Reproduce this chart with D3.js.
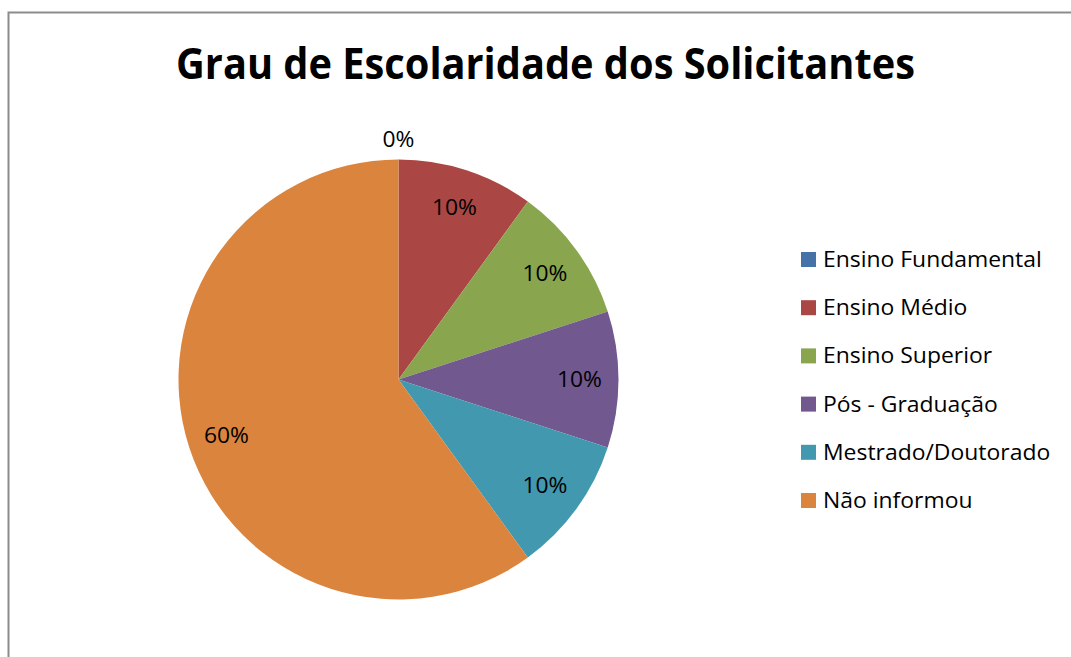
<!DOCTYPE html>
<html lang="pt">
  <head>
    <meta charset="UTF-8" />
    <title>Grau de Escolaridade dos Solicitantes</title>
    <script src="https://cdn.jsdelivr.net/npm/d3@7"></script>
    <style>
      body { margin: 0; background: #fff; }
      svg { display: block; }
      text { font-family: "Open Sans", "Noto Sans", sans-serif; fill: #000; }
    </style>
  </head>
  <body>
    <svg width="1071" height="657"></svg>
    <script>
      // data
      const categories = ["Ensino Fundamental", "Ensino Médio", "Ensino Superior",
                          "Pós - Graduação", "Mestrado/Doutorado", "Não informou"];
      const values = [0, 10, 10, 10, 10, 60];
      const colors = ["#4572A7", "#AA4643", "#89A54E", "#71588F", "#4198AF", "#DB843D"];

      const svg = d3.select("svg");

      // chart frame (runs off right and bottom of the window)
      svg.append("rect")
        .attr("x", 8.5).attr("y", 12.5)
        .attr("width", 1100).attr("height", 700)
        .attr("fill", "none").attr("stroke", "#8c8c8c").attr("stroke-width", 2);

      // horizontal squeeze so a wider font spans the same width as the original (Calibri)
      function squeeze(str, size, target, weight) {
        const t = svg.append("text").attr("font-size", size)
          .attr("font-weight", weight || "normal").text(str);
        const w = t.node().getComputedTextLength();
        t.remove();
        return target / w;
      }

      const titleSx = squeeze("Grau de Escolaridade dos Solicitantes", 43, 739, "bold");
      svg.append("text")
        .attr("transform", `translate(545.5,79) scale(${titleSx},1)`)
        .attr("text-anchor", "middle")
        .attr("font-weight", "bold")
        .attr("font-size", 43)
        .text("Grau de Escolaridade dos Solicitantes");

      // pie
      const cx = 398.5, cy = 379.5, R = 220;
      const pie = d3.pie().sort(null).value(d => d);
      const slices = pie(values);
      const arc = d3.arc().innerRadius(0).outerRadius(R);
      const labelArc = d3.arc().innerRadius(181).outerRadius(181);
      const outArc = d3.arc().innerRadius(240).outerRadius(240);

      const g = svg.append("g").attr("transform", `translate(${cx},${cy})`);
      g.selectAll("path")
        .data(slices)
        .enter()
        .append("path")
        .attr("d", arc)
        .attr("fill", (d, i) => colors[i]);

      const total = d3.sum(values);
      const labelSx = squeeze("10%", 21, 45);

      g.selectAll("text.lbl")
        .data(slices)
        .enter()
        .append("text")
        .attr("class", "lbl")
        .attr("transform", d => `translate(${(d.value === 0 ? outArc : labelArc).centroid(d)}) scale(${labelSx},1)`)
        .attr("text-anchor", "middle")
        .attr("dy", "0.36em")
        .attr("font-size", 21)
        .text(d => Math.round(d.value / total * 100) + "%");

      // legend
      const legendSx = squeeze(categories[0], 21, 219);
      const y = d3.scalePoint().domain(categories).range([259.5, 500.5]);
      const item = svg.append("g").selectAll("g")
        .data(categories)
        .enter()
        .append("g")
        .attr("transform", d => `translate(801,${y(d)})`);
      item.append("rect")
        .attr("x", 0).attr("y", -7.5)
        .attr("width", 15).attr("height", 15)
        .attr("fill", (d, i) => colors[i]);
      item.append("text")
        .attr("transform", `translate(22,0) scale(${legendSx},1)`)
        .attr("dy", "0.36em")
        .attr("font-size", 21)
        .text(d => d);
    </script>
  </body>
</html>
